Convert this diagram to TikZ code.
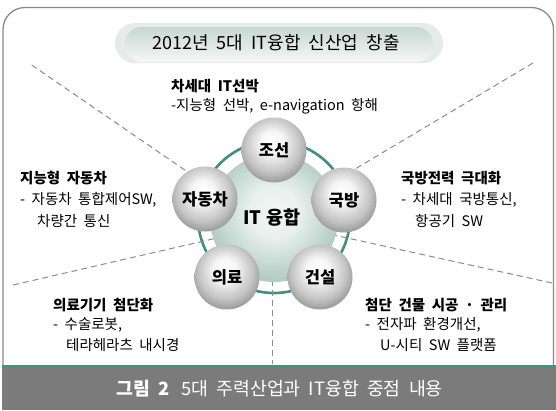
\documentclass[tikz,border=0pt]{standalone}
\usepackage{fontspec}
\setmainfont{Noto Sans CJK KR}[WordSpace=2]
\definecolor{framegray}{HTML}{8A8A8A}
\definecolor{dashgray}{HTML}{8C8C8C}
\definecolor{bandgray}{HTML}{7B7B7B}
\definecolor{tealc}{HTML}{3E9484}
\definecolor{ringteal}{HTML}{3F8F80}
\definecolor{diskedge}{HTML}{B3CDC5}
\definecolor{diskcenter}{HTML}{F2F6F4}
\definecolor{pillout}{HTML}{E4EBE8}
\definecolor{pilltop}{HTML}{C8D6D1}
\definecolor{pillbot}{HTML}{F6F8F7}
\definecolor{balledge}{HTML}{A0A0A0}
\pgfdeclareradialshading{ballshade}{\pgfpoint{-2bp}{7bp}}{color(0bp)=(white); color(9bp)=(white!96!black); color(21bp)=(balledge!62!white); color(27bp)=(balledge); color(50bp)=(balledge)}
\pgfdeclareradialshading{diskshade}{\pgfpoint{0bp}{3bp}}{color(0bp)=(diskcenter); color(10bp)=(diskcenter!85!diskedge); color(25bp)=(diskedge); color(50bp)=(diskedge)}
\tikzset{
  ballnode/.style={circle, minimum size=65pt, inner sep=0pt, shading=ballshade, font=\bfseries\fontsize{16.5}{16.5}\selectfont},
  hdr/.style={anchor=west, inner sep=0pt, font=\bfseries\fontsize{14.5}{16}\selectfont},
  txt/.style={anchor=west, inner sep=0pt, font=\fontsize{14.5}{16}\selectfont},
  dashline/.style={draw=dashgray, line width=1pt, dash pattern=on 6pt off 4pt},
}
\begin{document}
\begin{tikzpicture}[x=1pt,y=-1pt]
\useasboundingbox (0,0) rectangle (556,410);
\fill[white] (0,0) rectangle (556,410);
% frame
\draw[framegray, line width=1.3pt, rounded corners=22pt] (3,370) -- (3,7.5) -- (553.5,7.5) -- (553.5,370);
% caption band
\fill[bandgray] (1.5,366) rectangle (556,410);
\fill[tealc] (1.5,364.5) rectangle (556,367);
\node[anchor=west, inner sep=0pt, text=white, font=\fontsize{18.3}{18.3}\selectfont] (cap) at (116,389) {\textbf{그림 2}\hspace{12pt}5대 주력산업과 IT융합 중점 내용};
% title pill
\fill[pillout, rounded corners=20pt] (115,23) rectangle (443,63);
\shade[top color=pilltop, bottom color=pillbot, rounded corners=17pt] (125,27) rectangle (433,62);
\node[inner sep=0pt, font=\fontsize{18}{18}\selectfont] (title) at (276,43) {2012년 5대 IT융합 신산업 창출};
% ring
\node[circle, draw=ringteal, line width=2.6pt, minimum size=152pt, inner sep=0pt] (ring) at (274,217) {};
% dashed lines
\coordinate (tlA) at (31.7,65);   \coordinate (tlB) at (195,177);
\coordinate (trA) at (533,63);    \coordinate (trB) at (345,175);
\coordinate (llA) at (13,285);    \coordinate (llB) at (230,235);
\coordinate (lrA) at (552,283);   \coordinate (lrB) at (320,232);
\coordinate (vA) at (272,250);    \coordinate (vB) at (272,364);
\draw[dashline] (tlA) -- (tlB);
\draw[dashline] (trA) -- (trB);
\draw[dashline] (llA) -- (llB);
\draw[dashline] (lrA) -- (lrB);
\draw[dashline] (vA) -- (vB);
% disk
\node[circle, minimum size=128pt, inner sep=0pt, shading=diskshade] (disk) at (274,218) {};
\node[inner sep=0pt, font=\bfseries\fontsize{18.5}{18.5}\selectfont] (it) at (272,218) {IT\hspace{5pt}융합};
% balls
\node[ballnode] (josun) at (274,150) {조선};
\node[ballnode] (gukbang) at (344,200) {국방};
\node[ballnode] (jadong) at (205,199) {자동차};
\node[ballnode] (uiryo) at (227,277) {의료};
\node[ballnode] (geonseol) at (320,277) {건설};
% texts
\node[hdr] (t1) at (171,86) {차세대 IT선박};
\node[txt] (t2) at (171,106) {-지능형 선박, e-navigation 항해};
\node[hdr] (l1) at (20,178) {지능형 자동차};
\node[txt] (l2) at (20,199.5) {- 자동차 통합제어SW,};
\node[txt] (l3) at (37,221) {차량간 통신};
\node[hdr] (r1) at (401,178) {국방전력 극대화};
\node[txt] (r2) at (401,199.5) {- 차세대 국방통신,};
\node[txt] (r3) at (415,221) {항공기 SW};
\node[hdr] (b1) at (53,305) {의료기기 첨단화};
\node[txt] (b2) at (53,325) {- 수술로봇,};
\node[txt] (b3) at (66,345) {테라헤라츠 내시경};
\node[hdr] (c1) at (365,305) {첨단 건물 시공 · 관리};
\node[txt] (c2) at (365,325) {- 전자파 환경개선,};
\node[txt] (c3) at (380,345) {U-시티 SW 플랫폼};
\end{tikzpicture}
\end{document}
